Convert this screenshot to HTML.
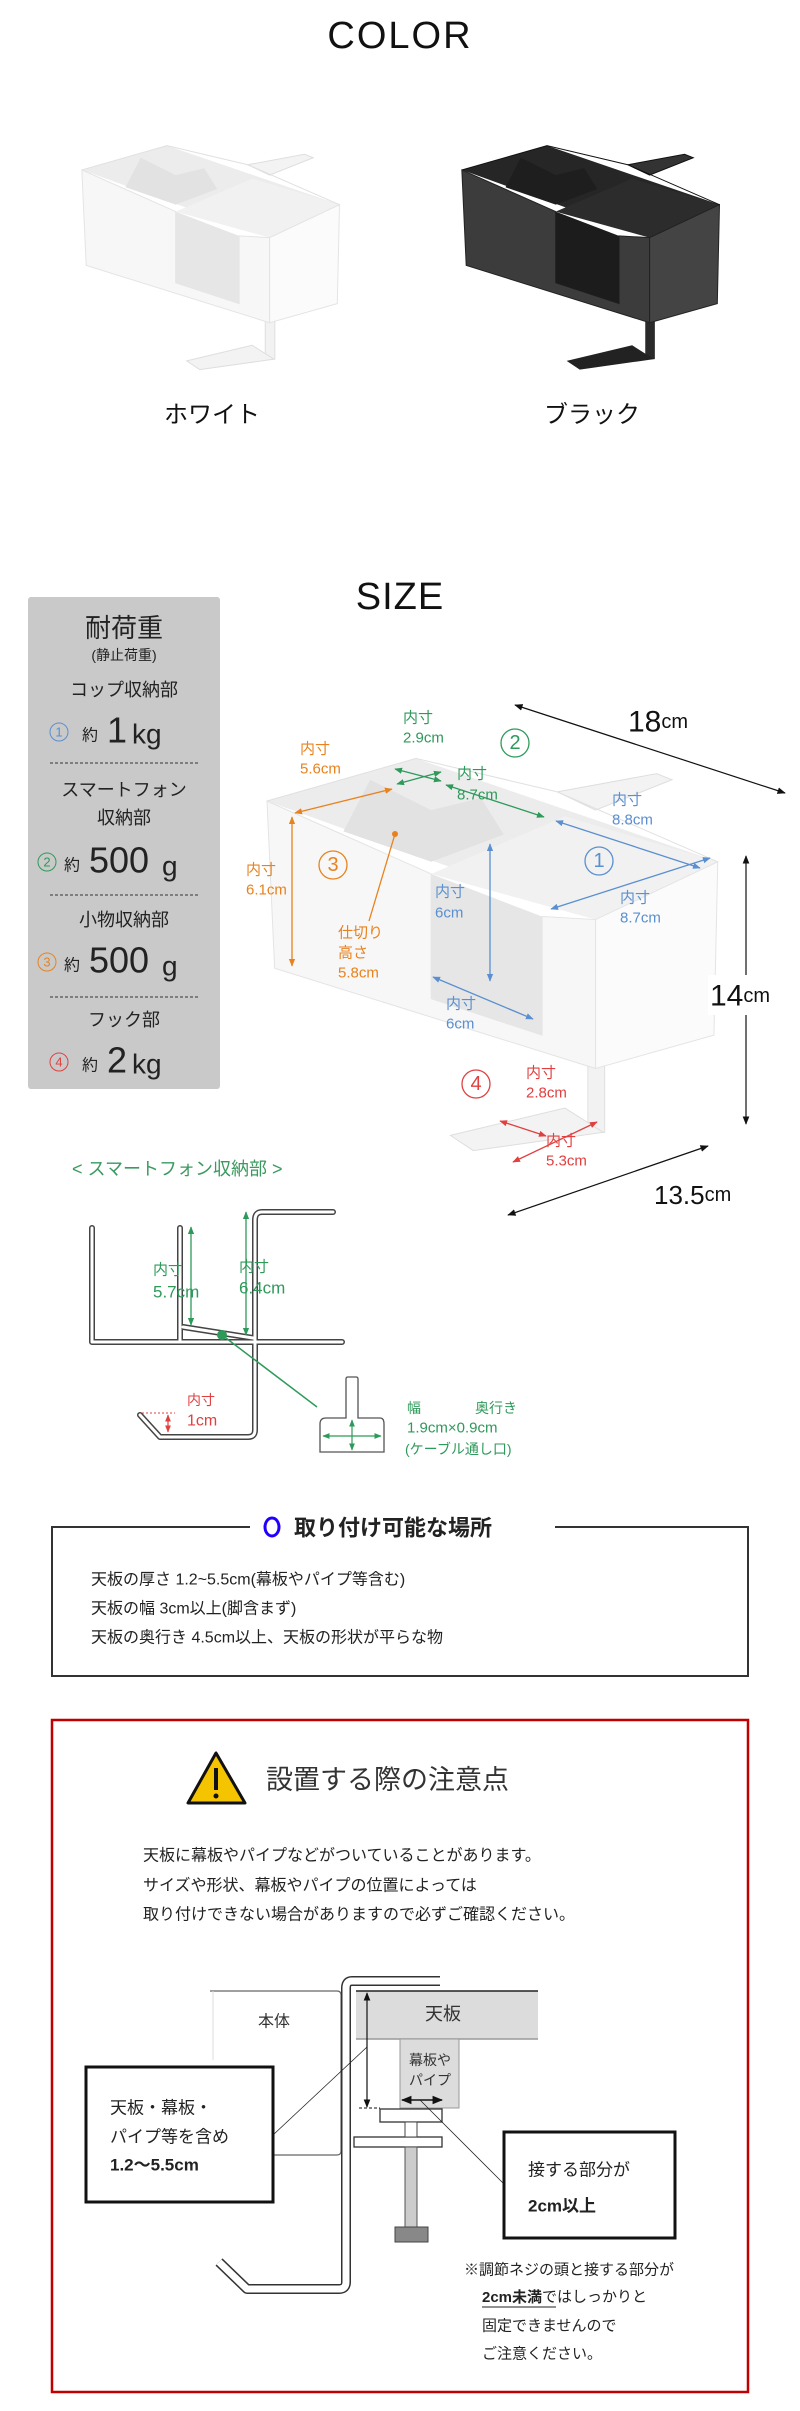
<!DOCTYPE html>
<html><head><meta charset="utf-8"><style>
html,body{margin:0;padding:0;background:#fff}
svg{display:block}
text{font-family:"Liberation Sans","Noto Sans CJK JP",sans-serif;dominant-baseline:central}
#pw *,#pb *{vector-effect:non-scaling-stroke}
</style></head><body>
<svg width="800" height="2411" viewBox="0 0 800 2411" xmlns="http://www.w3.org/2000/svg">
<defs>
<marker id="ab" viewBox="0 0 10 10" refX="9" refY="5" markerWidth="7" markerHeight="7" orient="auto-start-reverse"><path d="M0,1 L10,5 L0,9 z" fill="#111"/></marker>
<marker id="ag" viewBox="0 0 10 10" refX="9" refY="5" markerWidth="6" markerHeight="6" orient="auto-start-reverse"><path d="M0,1 L10,5 L0,9 z" fill="#2e9a5a"/></marker>
<marker id="ao" viewBox="0 0 10 10" refX="9" refY="5" markerWidth="6" markerHeight="6" orient="auto-start-reverse"><path d="M0,1 L10,5 L0,9 z" fill="#e8821e"/></marker>
<marker id="au" viewBox="0 0 10 10" refX="9" refY="5" markerWidth="6" markerHeight="6" orient="auto-start-reverse"><path d="M0,1 L10,5 L0,9 z" fill="#5a8fd0"/></marker>
<marker id="ar" viewBox="0 0 10 10" refX="9" refY="5" markerWidth="6" markerHeight="6" orient="auto-start-reverse"><path d="M0,1 L10,5 L0,9 z" fill="#e04040"/></marker>
<g id="pw">
 <polygon points="430,100 560,70 580,80 480,130" fill="#f3f3f3" stroke="#dedede"/>
 <polygon points="470,550 492,550 492,660 470,660" fill="#f2f2f2" stroke="#e0e0e0"/>
 <polygon points="290,665 440,620 490,660 320,690" fill="#f3f3f3" stroke="#dedede"/>
 <polygon points="50,115 245,45 640,215 480,310" fill="#ececec"/>
 <polygon points="150,165 185,80 265,130 330,110 360,170 265,215" fill="#e2e2e2"/>
 <polygon points="265,235 440,140 640,215 480,310" fill="#f1f1f1"/>
 <polygon points="50,115 265,235 265,440 410,500 410,305 480,310 480,555 60,390" fill="#f7f7f7" stroke="#e4e4e4"/>
 <polygon points="265,235 410,305 410,500 265,440" fill="#e6e6e6"/>
 <polygon points="480,310 640,215 635,500 480,555" fill="#fbfbfb" stroke="#e4e4e4"/>
 <polyline points="50,115 245,45 430,100 640,215" fill="none" stroke="#e0e0e0"/>
</g>
<g id="pb">
 <polygon points="430,100 560,70 580,80 480,130" fill="#333" stroke="#111"/>
 <polygon points="470,550 492,550 492,660 470,660" fill="#2a2a2a"/>
 <polygon points="290,665 440,620 490,660 320,690" fill="#222"/>
 <polygon points="50,115 245,45 640,215 480,310" fill="#262626"/>
 <polygon points="150,165 185,80 265,130 330,110 360,170 265,215" fill="#1e1e1e"/>
 <polygon points="265,235 440,140 640,215 480,310" fill="#2c2c2c"/>
 <polygon points="50,115 265,235 265,440 410,500 410,305 480,310 480,555 60,390" fill="#3c3c3c" stroke="#222"/>
 <polygon points="265,235 410,305 410,500 265,440" fill="#1c1c1c"/>
 <polygon points="480,310 640,215 635,500 480,555" fill="#444" stroke="#222"/>
 <polyline points="50,115 245,45 430,100 640,215" fill="none" stroke="#111"/>
</g>
</defs>

<text x="400" y="36" font-size="38" text-anchor="middle" fill="#111" letter-spacing="2">COLOR</text>
<use href="#pw" transform="translate(60,130) scale(0.4367,0.3472)"/>
<use href="#pb" transform="translate(440,130) scale(0.4367,0.3472)"/>
<text x="212" y="415" font-size="24" text-anchor="middle" fill="#111">ホワイト</text>
<text x="592" y="415" font-size="24" text-anchor="middle" fill="#111">ブラック</text>

<text x="400" y="597" font-size="38" text-anchor="middle" fill="#111" letter-spacing="1">SIZE</text>

<!-- weight panel -->
<rect x="28" y="597" width="192" height="492" rx="3" fill="#c9c9c9"/>
<g fill="#222" text-anchor="middle">
<text x="124" y="628" font-size="26">耐荷重</text>
<text x="124" y="655" font-size="14">(静止荷重)</text>
<text x="124" y="690" font-size="18">コップ収納部</text>
<text x="124" y="790" font-size="18">スマートフォン</text>
<text x="124" y="818" font-size="18">収納部</text>
<text x="124" y="920" font-size="18">小物収納部</text>
<text x="124" y="1020" font-size="18">フック部</text>
</g>
<g stroke="#333" stroke-width="1" stroke-dasharray="3,2"><line x1="50" y1="763" x2="198" y2="763"/><line x1="50" y1="895" x2="198" y2="895"/><line x1="50" y1="997" x2="198" y2="997"/></g>
<circle cx="59" cy="732" r="9" fill="none" stroke="#5a8fd0"/><text x="59" y="732" font-size="13" fill="#5a8fd0" text-anchor="middle">1</text>
<text x="82" y="736" font-size="16" fill="#222">約</text><text x="107" y="730" font-size="36" fill="#222">1</text><text x="132" y="734" font-size="28" fill="#222">kg</text>
<circle cx="47" cy="862" r="9" fill="none" stroke="#2e9a5a"/><text x="47" y="862" font-size="13" fill="#2e9a5a" text-anchor="middle">2</text>
<text x="64" y="866" font-size="16" fill="#222">約</text><text x="89" y="860" font-size="36" fill="#222">500</text><text x="162" y="866" font-size="28" fill="#222">g</text>
<circle cx="47" cy="962" r="9" fill="none" stroke="#e8821e"/><text x="47" y="962" font-size="13" fill="#e8821e" text-anchor="middle">3</text>
<text x="64" y="966" font-size="16" fill="#222">約</text><text x="89" y="960" font-size="36" fill="#222">500</text><text x="162" y="966" font-size="28" fill="#222">g</text>
<circle cx="59" cy="1062" r="9" fill="none" stroke="#e04040"/><text x="59" y="1062" font-size="13" fill="#e04040" text-anchor="middle">4</text>
<text x="82" y="1066" font-size="16" fill="#222">約</text><text x="107" y="1060" font-size="36" fill="#222">2</text><text x="132" y="1064" font-size="28" fill="#222">kg</text>

<!-- size product -->
<use href="#pw" transform="translate(267,801) scale(0.764,0.608) translate(-50,-115)"/>
<line x1="515" y1="705" x2="785" y2="793" stroke="#111" stroke-width="1.2" marker-start="url(#ab)" marker-end="url(#ab)"/>
<text x="628" y="722" font-size="30" fill="#111">18<tspan font-size="20">cm</tspan></text>
<line x1="746" y1="856" x2="746" y2="1124" stroke="#111" stroke-width="1.2" marker-start="url(#ab)" marker-end="url(#ab)"/>
<rect x="708" y="975" width="80" height="40" fill="#fff"/>
<text x="710" y="996" font-size="30" fill="#111">14<tspan font-size="20">cm</tspan></text>
<line x1="508" y1="1215" x2="708" y2="1146" stroke="#111" stroke-width="1.2" marker-start="url(#ab)" marker-end="url(#ab)"/>
<text x="654" y="1195" font-size="26" fill="#111">13.5<tspan font-size="20">cm</tspan></text>

<circle cx="515" cy="743" r="14" fill="none" stroke="#2e9a5a" stroke-width="1.3"/><text x="515" y="743" font-size="20" fill="#2e9a5a" text-anchor="middle">2</text>
<circle cx="599" cy="861" r="14" fill="none" stroke="#5a8fd0" stroke-width="1.3"/><text x="599" y="861" font-size="20" fill="#5a8fd0" text-anchor="middle">1</text>
<circle cx="333" cy="865" r="14" fill="none" stroke="#e8821e" stroke-width="1.3"/><text x="333" y="865" font-size="20" fill="#e8821e" text-anchor="middle">3</text>
<circle cx="476" cy="1084" r="14" fill="none" stroke="#e04040" stroke-width="1.3"/><text x="476" y="1084" font-size="20" fill="#e04040" text-anchor="middle">4</text>

<g stroke-width="1.3">
<line x1="295" y1="813" x2="392" y2="789" stroke="#e8821e" marker-start="url(#ao)" marker-end="url(#ao)"/>
<line x1="292" y1="817" x2="292" y2="966" stroke="#e8821e" marker-start="url(#ao)" marker-end="url(#ao)"/>
<line x1="395" y1="834" x2="369" y2="921" stroke="#e8821e"/><circle cx="395" cy="834" r="3" fill="#e8821e"/>
<line x1="395" y1="769" x2="441" y2="781" stroke="#2e9a5a" marker-start="url(#ag)" marker-end="url(#ag)"/>
<line x1="441" y1="772" x2="397" y2="784" stroke="#2e9a5a" marker-start="url(#ag)" marker-end="url(#ag)"/>
<line x1="446" y1="785" x2="544" y2="817" stroke="#2e9a5a" marker-start="url(#ag)" marker-end="url(#ag)"/>
<line x1="556" y1="821" x2="700" y2="868" stroke="#5a8fd0" marker-start="url(#au)" marker-end="url(#au)"/>
<line x1="551" y1="909" x2="710" y2="858" stroke="#5a8fd0" marker-start="url(#au)" marker-end="url(#au)"/>
<line x1="490" y1="844" x2="490" y2="981" stroke="#5a8fd0" marker-start="url(#au)" marker-end="url(#au)"/>
<line x1="433" y1="977" x2="533" y2="1019" stroke="#5a8fd0" marker-start="url(#au)" marker-end="url(#au)"/>
<line x1="500" y1="1121" x2="546" y2="1136" stroke="#e04040" marker-start="url(#ar)" marker-end="url(#ar)"/>
<line x1="513" y1="1162" x2="597" y2="1122" stroke="#e04040" marker-start="url(#ar)" marker-end="url(#ar)"/>
</g>
<g font-size="15">
<text x="403" y="718" fill="#2e9a5a">内寸</text><text x="403" y="738" fill="#2e9a5a">2.9cm</text>
<text x="457" y="774" fill="#2e9a5a">内寸</text><text x="457" y="795" fill="#2e9a5a">8.7cm</text>
<text x="300" y="749" fill="#e8821e">内寸</text><text x="300" y="769" fill="#e8821e">5.6cm</text>
<text x="612" y="800" fill="#5a8fd0">内寸</text><text x="612" y="820" fill="#5a8fd0">8.8cm</text>
<text x="435" y="892" fill="#5a8fd0">内寸</text><text x="435" y="913" fill="#5a8fd0">6cm</text>
<text x="620" y="898" fill="#5a8fd0">内寸</text><text x="620" y="918" fill="#5a8fd0">8.7cm</text>
<text x="246" y="870" fill="#e8821e">内寸</text><text x="246" y="890" fill="#e8821e">6.1cm</text>
<text x="338" y="933" fill="#e8821e">仕切り</text><text x="338" y="953" fill="#e8821e">高さ</text><text x="338" y="973" fill="#e8821e">5.8cm</text>
<text x="446" y="1004" fill="#5a8fd0">内寸</text><text x="446" y="1024" fill="#5a8fd0">6cm</text>
<text x="526" y="1073" fill="#e04040">内寸</text><text x="526" y="1093" fill="#e04040">2.8cm</text>
<text x="546" y="1141" fill="#e04040">内寸</text><text x="546" y="1161" fill="#e04040">5.3cm</text>
</g>

<!-- smartphone diagram -->
<text x="72" y="1169" font-size="18" fill="#3a9a5f">&lt; スマートフォン収納部 &gt;</text>
<g fill="none" stroke-linecap="round" stroke-linejoin="round">
<g stroke="#444" stroke-width="6">
<path d="M92,1228 L92,1342 L342,1342"/><path d="M180,1228 L180,1342"/>
<path d="M333,1212 L262,1212 Q255,1212 255,1220 L255,1430 Q255,1437 248,1437 L160,1437 L140,1415"/>
<path d="M183,1327 L253,1338"/>
</g>
<g stroke="#fff" stroke-width="3">
<path d="M92,1228 L92,1342 L342,1342"/><path d="M180,1228 L180,1342"/>
<path d="M333,1212 L262,1212 Q255,1212 255,1220 L255,1430 Q255,1437 248,1437 L160,1437 L140,1415"/>
<path d="M183,1327 L253,1338"/>
</g>
</g>
<line x1="191" y1="1227" x2="191" y2="1325" stroke="#2e9a5a" stroke-width="1.3" marker-start="url(#ag)" marker-end="url(#ag)"/>
<line x1="246" y1="1212" x2="246" y2="1335" stroke="#2e9a5a" stroke-width="1.3" marker-start="url(#ag)" marker-end="url(#ag)"/>
<text x="153" y="1270" font-size="15" fill="#2e9a5a">内寸</text><text x="153" y="1292" font-size="17" fill="#2e9a5a">5.7cm</text>
<text x="239" y="1267" font-size="15" fill="#2e9a5a">内寸</text><text x="239" y="1288" font-size="17" fill="#2e9a5a">6.4cm</text>
<circle cx="222" cy="1335" r="5" fill="#2e9a5a"/><line x1="222" y1="1335" x2="317" y2="1407" stroke="#2e9a5a" stroke-width="1.5"/>
<path d="M346,1418 L346,1379 Q346,1377 348,1377 L356,1377 Q358,1377 358,1379 L358,1418 L380,1418 Q384,1418 384,1424 L384,1452 L320,1452 L320,1424 Q320,1418 326,1418 Z" fill="#fff" stroke="#555" stroke-width="1.3"/>
<line x1="323" y1="1436" x2="381" y2="1436" stroke="#2e9a5a" stroke-width="1.2" marker-start="url(#ag)" marker-end="url(#ag)"/>
<line x1="352" y1="1420" x2="352" y2="1450" stroke="#2e9a5a" stroke-width="1.2" marker-start="url(#ag)" marker-end="url(#ag)"/>
<text x="407" y="1408" font-size="14" fill="#2e9a5a">幅</text><text x="475" y="1408" font-size="14" fill="#2e9a5a">奥行き</text>
<text x="407" y="1428" font-size="15" fill="#2e9a5a">1.9cm×0.9cm</text>
<text x="405" y="1449" font-size="14" fill="#2e9a5a">(ケーブル通し口)</text>
<text x="187" y="1400" font-size="14" fill="#e04040">内寸</text><text x="187" y="1421" font-size="16" fill="#e04040">1cm</text>
<line x1="142" y1="1413" x2="175" y2="1413" stroke="#e04040" stroke-dasharray="2,2"/>
<line x1="168" y1="1415" x2="168" y2="1432" stroke="#e04040" stroke-width="1.2" marker-start="url(#ar)" marker-end="url(#ar)"/>

<!-- box 1 -->
<rect x="52" y="1527" width="696" height="149" fill="none" stroke="#333" stroke-width="2"/>
<rect x="250" y="1512" width="305" height="30" fill="#fff"/>
<ellipse cx="272" cy="1527" rx="7" ry="9" fill="none" stroke="#2200ff" stroke-width="3"/>
<text x="294" y="1528" font-size="22" font-weight="bold" fill="#222">取り付け可能な場所</text>
<text x="91" y="1580" font-size="16" fill="#222">天板の厚さ 1.2~5.5cm(幕板やパイプ等含む)</text>
<text x="91" y="1609" font-size="16" fill="#222">天板の幅 3cm以上(脚含まず)</text>
<text x="91" y="1638" font-size="16" fill="#222">天板の奥行き 4.5cm以上、天板の形状が平らな物</text>

<!-- red box -->
<rect x="52" y="1720" width="696" height="672" fill="none" stroke="#c00000" stroke-width="2.5"/>
<polygon points="216,1753 188,1803 245,1803" fill="#f5c400" stroke="#111" stroke-width="3" stroke-linejoin="round"/>
<rect x="214" y="1768" width="4" height="22" fill="#111"/><circle cx="216" cy="1796" r="2.5" fill="#111"/>
<text x="266" y="1780" font-size="27" fill="#333">設置する際の注意点</text>
<text x="143" y="1856" font-size="16" fill="#222">天板に幕板やパイプなどがついていることがあります。</text>
<text x="143" y="1886" font-size="16" fill="#222">サイズや形状、幕板やパイプの位置によっては</text>
<text x="143" y="1915" font-size="16" fill="#222">取り付けできない場合がありますので必ずご確認ください。</text>

<!-- install diagram -->
<path d="M210,1991 L337,1991 Q341,1991 341,1995 L341,2151 Q341,2155 337,2155 L274,2155" fill="none" stroke="#666" stroke-width="1.2"/>
<line x1="213" y1="1991" x2="213" y2="2060" stroke="#ddd"/>
<text x="274" y="2022" font-size="16" fill="#333" text-anchor="middle">本体</text>
<rect x="356" y="1991" width="182" height="48" fill="#dcdcdc"/><line x1="356" y1="1991" x2="538" y2="1991" stroke="#222" stroke-width="1.5"/><line x1="356" y1="2039" x2="538" y2="2039" stroke="#999" stroke-width="1.5"/>
<text x="443" y="2014" font-size="18" fill="#333" text-anchor="middle">天板</text>
<rect x="400" y="2039" width="59" height="69" fill="#dcdcdc" stroke="#999"/>
<text x="430" y="2060" font-size="14" fill="#333" text-anchor="middle">幕板や</text>
<text x="430" y="2080" font-size="14" fill="#333" text-anchor="middle">パイプ</text>
<g fill="none" stroke-linejoin="round">
<path d="M440,1981 L352,1981 Q346,1981 346,1988 L346,2282 Q346,2289 339,2289 L247,2289 L219,2262" stroke="#333" stroke-width="10"/>
<path d="M440,1981 L352,1981 Q346,1981 346,1988 L346,2282 Q346,2289 339,2289 L247,2289 L219,2262" stroke="#fff" stroke-width="7"/>
</g>
<rect x="380" y="2109" width="62" height="13" fill="#fff" stroke="#333" stroke-width="1.3"/>
<rect x="354" y="2137" width="88" height="10" fill="#fff" stroke="#333" stroke-width="1.3"/>
<rect x="405" y="2122" width="12" height="15" fill="#fff" stroke="#444"/>
<rect x="405" y="2147" width="12" height="80" fill="#ccc" stroke="#555"/>
<rect x="395" y="2227" width="33" height="15" fill="#888" stroke="#444"/>
<line x1="367" y1="1993" x2="367" y2="2107" stroke="#111" stroke-width="1.2" marker-start="url(#ab)" marker-end="url(#ab)"/>
<line x1="359" y1="2108" x2="380" y2="2108" stroke="#111" stroke-dasharray="3,2"/>
<line x1="402" y1="2100" x2="442" y2="2100" stroke="#111" stroke-width="1.5" marker-start="url(#ab)" marker-end="url(#ab)"/>
<line x1="273" y1="2135" x2="367" y2="2047" stroke="#222" stroke-width="0.8"/>
<line x1="420" y1="2100" x2="503" y2="2183" stroke="#222" stroke-width="0.8"/>
<rect x="86" y="2067" width="187" height="135" fill="#fff" stroke="#111" stroke-width="3"/>
<text x="110" y="2108" font-size="17" fill="#222">天板・幕板・</text>
<text x="110" y="2137" font-size="17" fill="#222">パイプ等を含め</text>
<text x="110" y="2165" font-size="17" font-weight="bold" fill="#222">1.2～5.5cm</text>
<rect x="504" y="2132" width="171" height="106" fill="#fff" stroke="#111" stroke-width="3"/>
<text x="528" y="2170" font-size="17" fill="#222">接する部分が</text>
<text x="528" y="2206" font-size="17" font-weight="bold" fill="#222">2cm以上</text>
<text x="464" y="2270" font-size="15" fill="#222">※調節ネジの頭と接する部分が</text>
<text x="482" y="2297" font-size="15" fill="#222"><tspan font-weight="bold">2cm未満</tspan>ではしっかりと</text>
<line x1="482" y1="2307" x2="556" y2="2307" stroke="#222" stroke-width="1"/>
<text x="482" y="2326" font-size="15" fill="#222">固定できませんので</text>
<text x="482" y="2354" font-size="15" fill="#222">ご注意ください。</text>
</svg>
</body></html>
